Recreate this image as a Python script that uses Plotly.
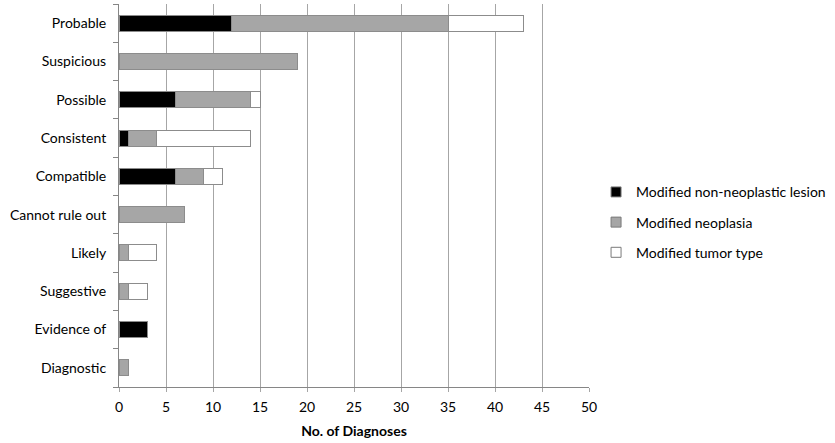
import plotly.graph_objects as go

categories = ["Probable", "Suspicious", "Possible", "Consistent", "Compatible",
              "Cannot rule out", "Likely", "Suggestive", "Evidence of", "Diagnostic"]
non_neoplastic = [12, 0, 6, 1, 6, 0, 0, 0, 3, 0]
neoplasia = [23, 19, 8, 3, 3, 7, 1, 1, 0, 1]
tumor_type = [8, 0, 1, 10, 2, 0, 3, 2, 0, 0]
x_ticks = [0, 5, 10, 15, 20, 25, 30, 35, 40, 45, 50]

FONT = "Lato, Open Sans, sans-serif"

fig = go.Figure()
series = [
    ("Modified non-neoplastic lesion", non_neoplastic, "#000000"),
    ("Modified neoplasia", neoplasia, "#a6a6a6"),
    ("Modified tumor type", tumor_type, "#ffffff"),
]
for i, (name, vals, color) in enumerate(series):
    fig.add_trace(go.Bar(
        y=categories, x=vals, name=name, orientation="h", showlegend=False,
        marker=dict(color=color, line=dict(color="#8c8c8c", width=1)),
    ))
    fig.add_trace(go.Scatter(
        x=[None], y=[None], mode="markers", name=name, legendgroup=f"g{i}",
        marker=dict(symbol="square", size=10, color=color,
                    line=dict(color="#7a7a7a", width=1)),
    ))

fig.update_layout(
    barmode="stack",
    bargap=0.58,
    width=835, height=443,
    margin=dict(l=119, r=246, t=4, b=56),
    plot_bgcolor="white", paper_bgcolor="white",
    font=dict(family=FONT, size=14, color="#000000"),
    showlegend=True,
    legend=dict(x=1.015, y=0.43, xanchor="left", yanchor="middle",
                traceorder="grouped", font=dict(size=14, family=FONT),
                itemwidth=30, tracegroupgap=9),
    xaxis=dict(range=[0, 50], tickvals=x_ticks, showgrid=True,
               gridcolor="#a6a6a6", gridwidth=1, zeroline=False,
               showline=True, linecolor="#868686", ticks="outside",
               ticklen=4, tickcolor="#a6a6a6", automargin=False,
               ticklabelstandoff=3,
               title=dict(text="<b>No. of Diagnoses</b>", font=dict(size=14), standoff=12),
               tickfont=dict(size=14)),
    yaxis=dict(categoryorder="array", categoryarray=categories[::-1],
               showline=True, linecolor="#868686", ticks="outside",
               tickson="boundaries", automargin=False,
               ticklen=5, tickcolor="#868686", showgrid=False,
               tickfont=dict(size=14), ticklabelstandoff=9),
)

fig.write_html("out.html", config={"displayModeBar": False},
               post_script="document.body.style.margin='0';")
